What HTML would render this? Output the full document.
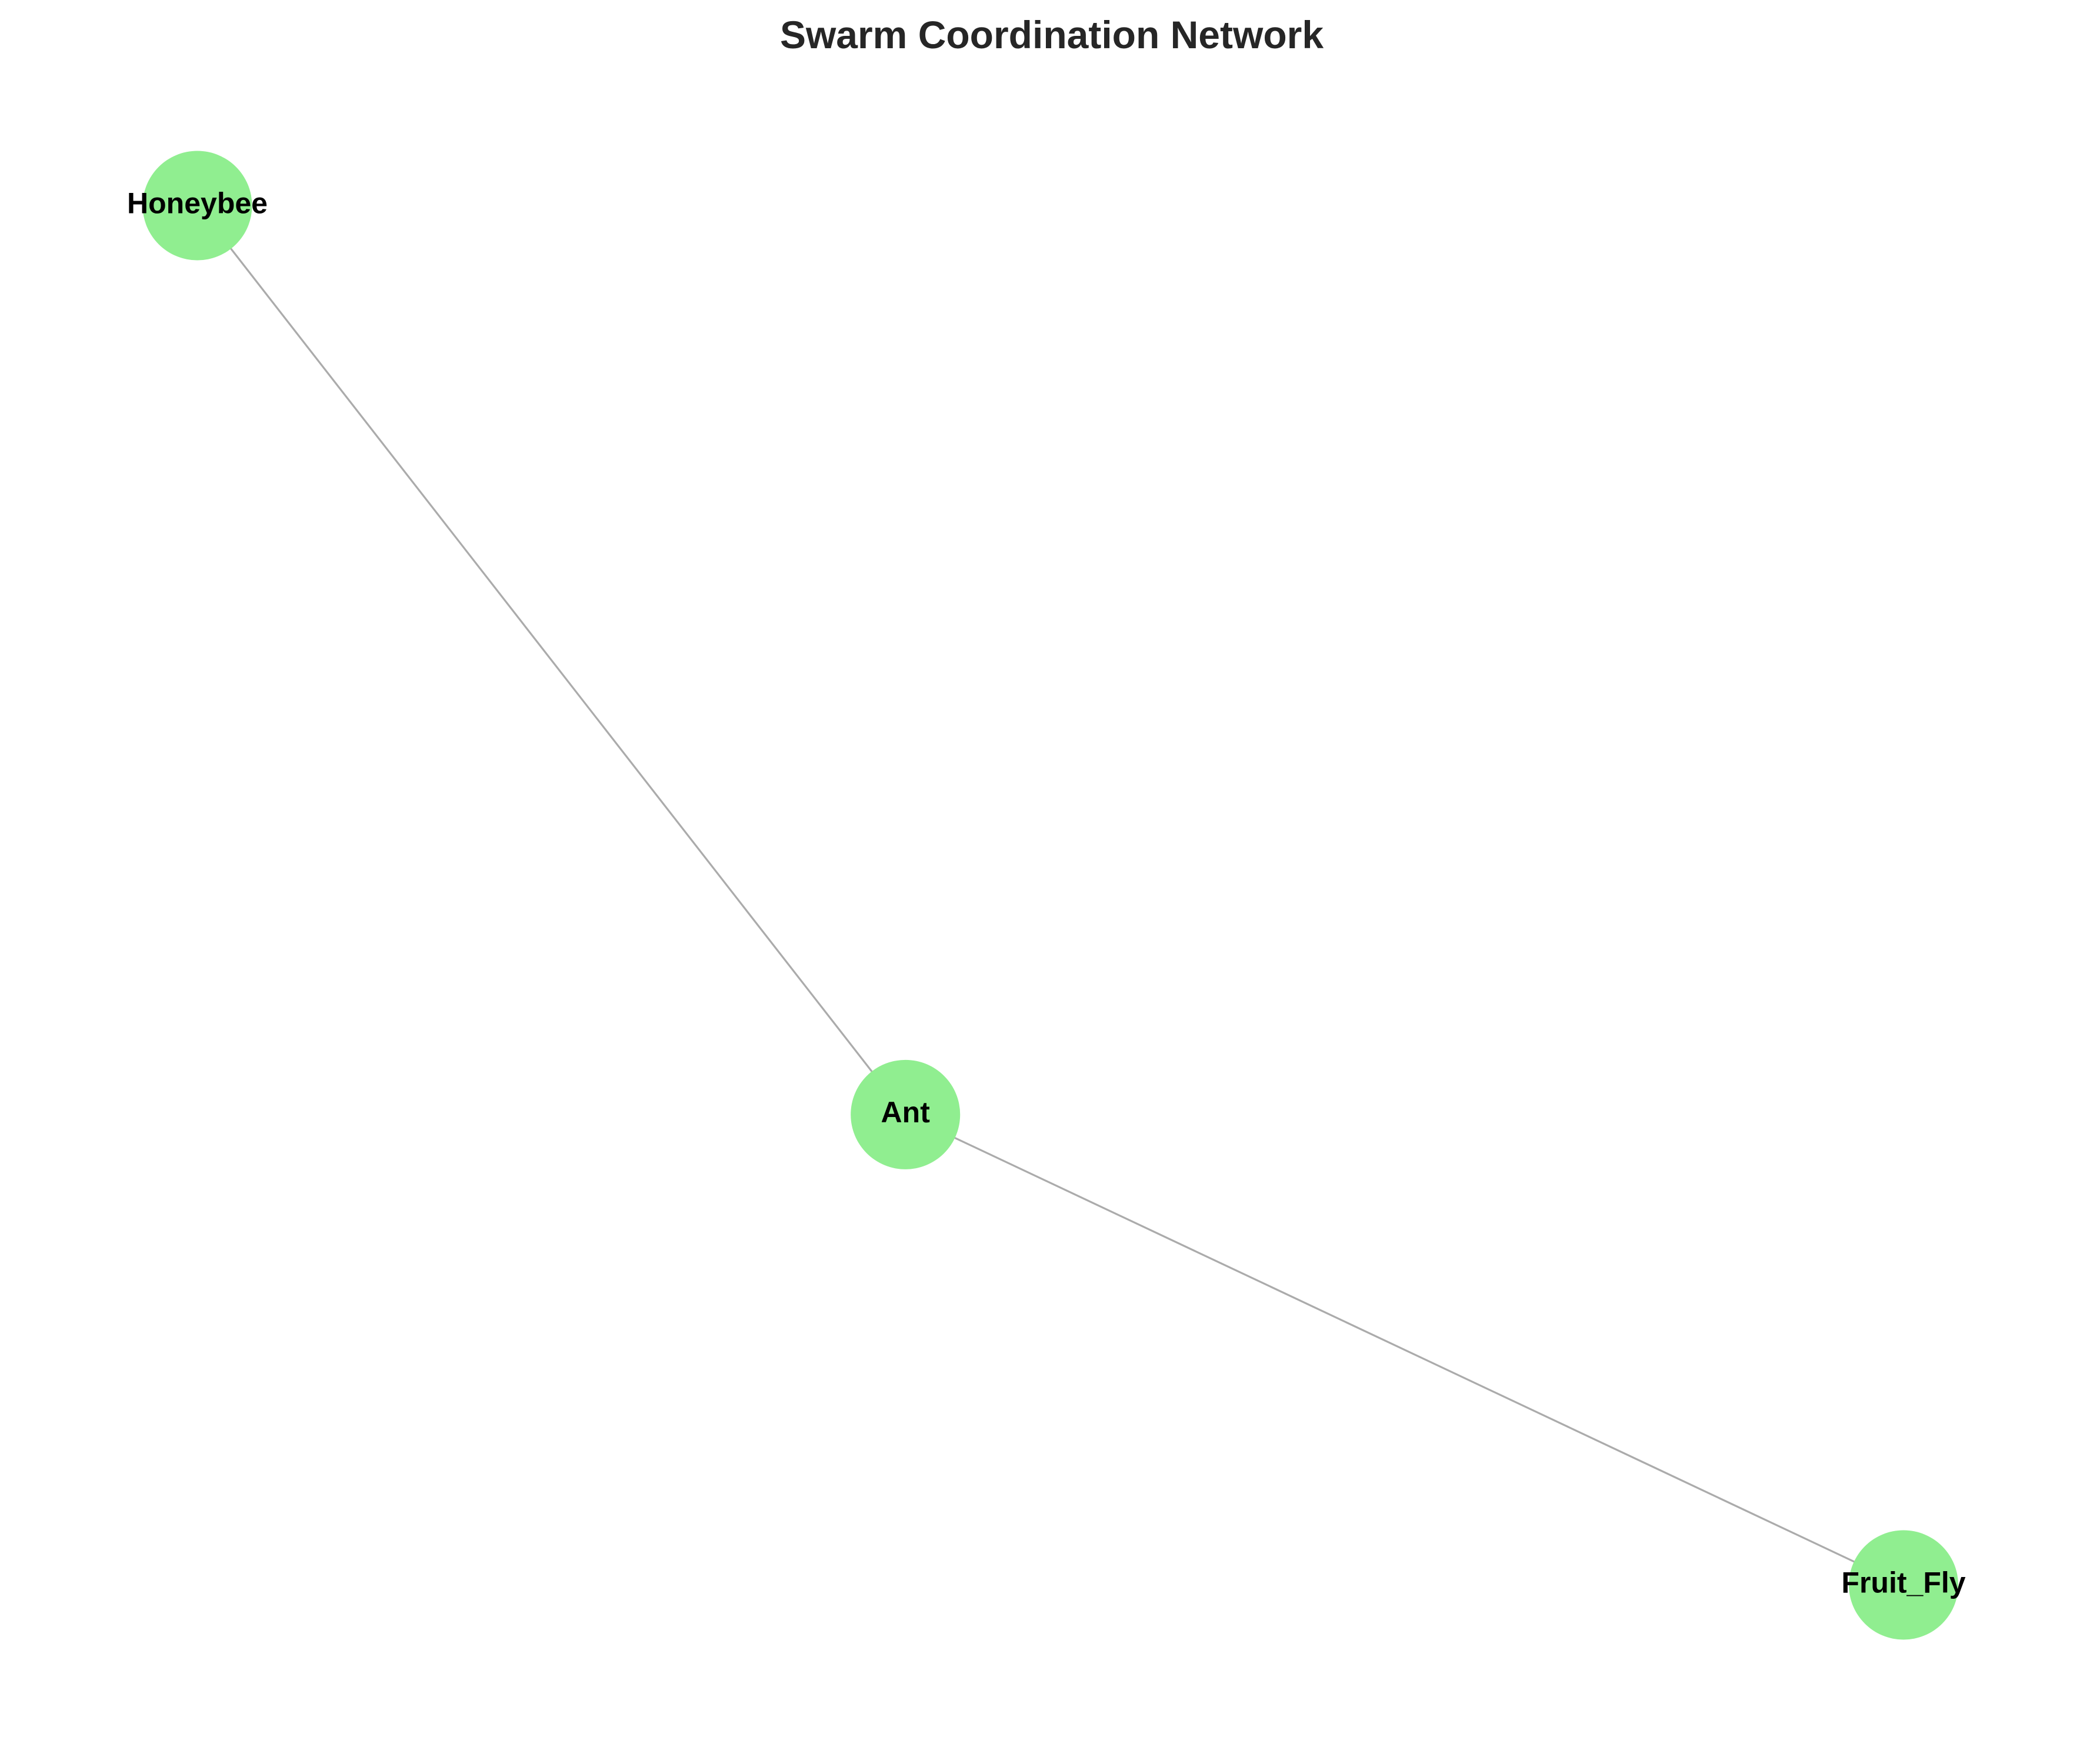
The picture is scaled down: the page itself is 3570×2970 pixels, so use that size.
<!DOCTYPE html>
<html><head><meta charset="utf-8"><style>
html,body{margin:0;padding:0;background:#fff;}
svg{display:block;}
text{font-family:"Liberation Sans",Arial,sans-serif;font-weight:bold;}
</style></head><body>
<svg id="chart" width="3570" height="2970" viewBox="0 0 3570 2970" xmlns="http://www.w3.org/2000/svg">
<rect x="0" y="0" width="3570" height="2970" fill="#fff"/>
<text x="1788" y="82" font-size="66" fill="#262626" text-anchor="middle">Swarm Coordination Network</text>
<g id="edges"></g>
<g id="nodes"></g>
</svg>
<script>
const nodeNames = ["Honeybee", "Ant", "Fruit_Fly"];
const nodeX = [0.0, 0.415, 1.0];
const nodeY = [1.0, 0.341, 0.0];
const edgeSource = ["Honeybee", "Ant"];
const edgeTarget = ["Ant", "Fruit_Fly"];

const NS = "http://www.w3.org/2000/svg";
function sx(v){ return 335.5 + v * (3236 - 335.5); }
function sy(v){ return 2694.5 - v * (2694.5 - 349.5); }
const eg = document.getElementById("edges");
const ng = document.getElementById("nodes");
for (let i = 0; i < edgeSource.length; i++) {
  const a = nodeNames.indexOf(edgeSource[i]), b = nodeNames.indexOf(edgeTarget[i]);
  const l = document.createElementNS(NS, "line");
  l.setAttribute("x1", sx(nodeX[a])); l.setAttribute("y1", sy(nodeY[a]));
  l.setAttribute("x2", sx(nodeX[b])); l.setAttribute("y2", sy(nodeY[b]));
  l.setAttribute("stroke", "#ababab"); l.setAttribute("stroke-width", "3.2");
  
  
  eg.appendChild(l);
}
for (let i = 0; i < nodeNames.length; i++) {
  const c = document.createElementNS(NS, "circle");
  c.setAttribute("cx", sx(nodeX[i])); c.setAttribute("cy", sy(nodeY[i]));
  c.setAttribute("r", "93"); c.setAttribute("fill", "#90ee90");
  
  
  ng.appendChild(c);
  const t = document.createElementNS(NS, "text");
  t.setAttribute("x", sx(nodeX[i])); t.setAttribute("y", sy(nodeY[i]) + 13);
  t.setAttribute("font-size", "50"); t.setAttribute("fill", "#000");
  t.setAttribute("text-anchor", "middle");
  t.textContent = nodeNames[i];
  
  
  ng.appendChild(t);
}
</script>
</body></html>
